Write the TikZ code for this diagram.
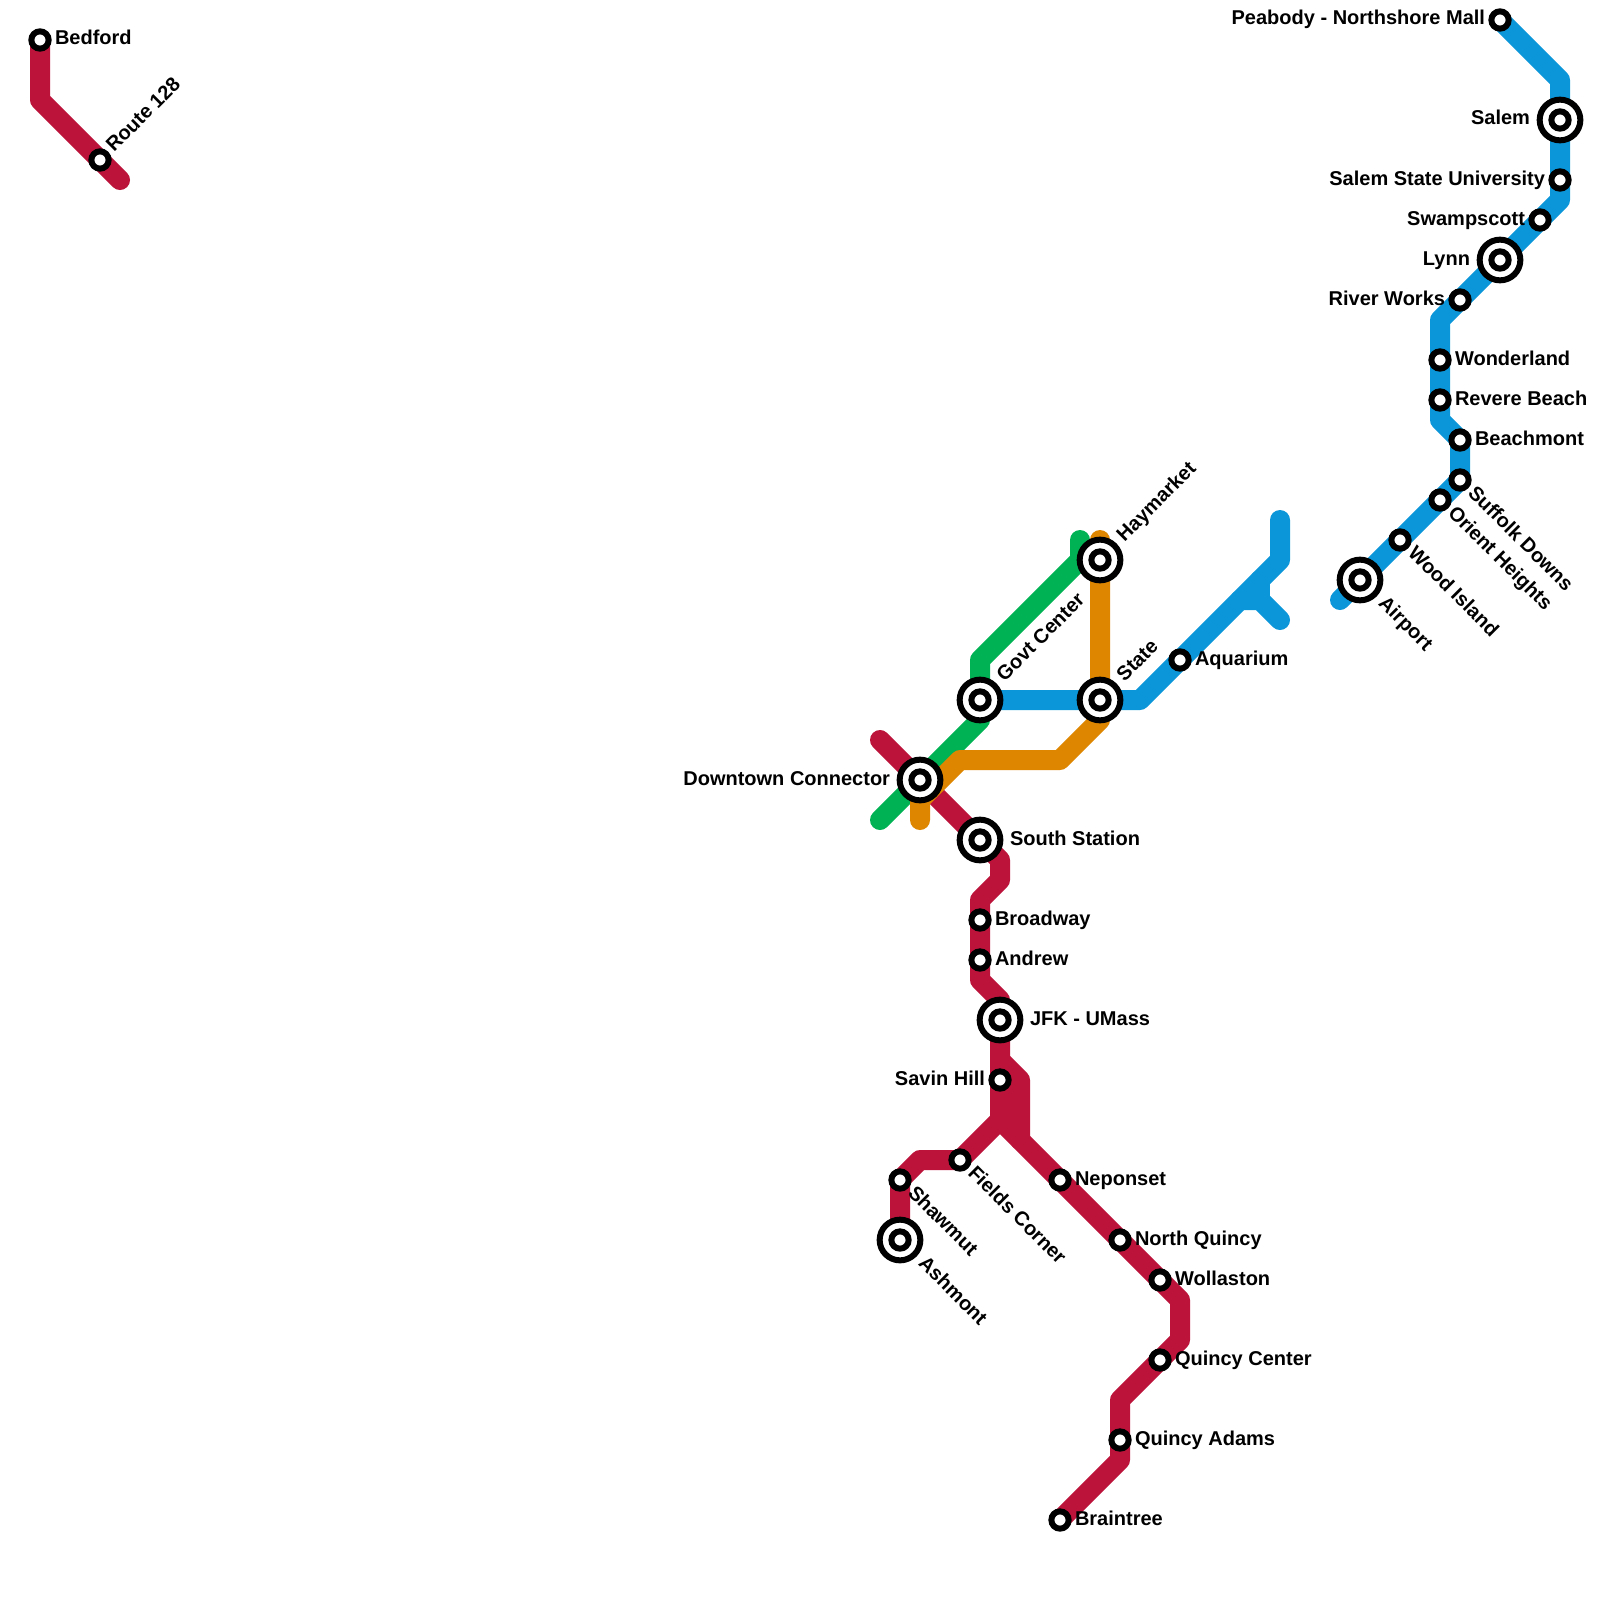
\documentclass[tikz,border=0pt]{standalone}
\usepackage{fontspec}
\setsansfont{Liberation Sans}
\usetikzlibrary{backgrounds}
\definecolor{redline}{RGB}{188,19,59}
\definecolor{greenline}{RGB}{0,178,83}
\definecolor{orangeline}{RGB}{222,134,0}
\definecolor{blueline}{RGB}{10,150,217}

\begin{document}
\begin{tikzpicture}[
    x=0.5pt, y=-0.5pt,
    font=\sffamily\bfseries\fontsize{10}{12}\selectfont,
    metro/.style={line width=10pt, line cap=round, line join=round},
    stn/.style={circle, draw=black, fill=white, line width=3pt, inner sep=0pt, minimum size=8.65pt},
    hub/.style={stn, minimum size=20.35pt},
    lab/.style={inner sep=0pt, outer sep=0pt},
    % labels of the small stations
    sr/.style={lab, anchor=base west, shift={(15,5)}},
    sl/.style={lab, anchor=base east, shift={(-15,5)}},
    su/.style={lab, anchor=base west, shift={(14,-7)}, rotate=45},
    sd/.style={lab, anchor=base west, shift={(7,14)}, rotate=-45},
    % labels of the large stations
    hr/.style={lab, anchor=base west, shift={(30,5)}},
    hl/.style={lab, anchor=base east, shift={(-30,5)}},
    hu/.style={lab, anchor=base west, shift={(24.7,-17.7)}, rotate=45},
    hd/.style={lab, anchor=base west, shift={(17.7,24.7)}, rotate=-45}
  ]
  \useasboundingbox (0,0) rectangle (1600,1600);

  \foreach \n/\x/\y/\lbl/\side in {
      bedford/40/40/Bedford/sr, rt128/100/160/Route 128/su,
      aquarium/1180/660/Aquarium/sr, broadway/980/920/Broadway/sr,
      andrew/980/960/Andrew/sr, savin/1000/1080/Savin Hill/sl,
      fields/960/1160/Fields Corner/sd, shawmut/900/1180/Shawmut/sd,
      neponset/1060/1180/Neponset/sr, nquincy/1120/1240/North Quincy/sr,
      wollaston/1160/1280/Wollaston/sr, qcenter/1160/1360/Quincy Center/sr,
      qadams/1120/1440/Quincy Adams/sr, braintree/1060/1520/Braintree/sr,
      peabody/1500/20/Peabody - Northshore Mall/sl,
      ssu/1560/180/Salem State University/sl, swampscott/1540/220/Swampscott/sl,
      riverworks/1460/300/River Works/sl, wonderland/1440/360/Wonderland/sr,
      revere/1440/400/Revere Beach/sr, beachmont/1460/440/Beachmont/sr,
      suffolk/1460/480/Suffolk Downs/sd, orient/1440/500/Orient Heights/sd,
      wood/1400/540/Wood Island/sd}
    {
      \node[stn] (\n) at (\x,\y) {};
      \node[\side] (\n lab) at (\n.center) {\lbl};
    }

  \foreach \n/\x/\y/\lbl/\side in {
      downtown/920/780/Downtown Connector/hl, south/980/840/South Station/hr,
      govt/980/700/Govt Center/hu, state/1100/700/State/hu,
      haymarket/1100/560/Haymarket/hu, jfk/1000/1020/JFK - UMass/hr,
      ashmont/900/1240/Ashmont/hd, airport/1360/580/Airport/hd,
      lynn/1500/260/Lynn/hl, salem/1560/120/Salem/hl}
    {
      \node[hub] (\n) at (\x,\y) {};
      \node[stn] (\n in) at (\n.center) {};
      \node[\side] (\n lab) at (\n.center) {\lbl};
    }

  % bends and line ends
  \foreach \n/\x/\y in {
      ra/40/100, rb/120/180, rc/880/740, rd/1000/860, re/1000/880, rf/980/900,
      rg/980/980, rh/1000/1000, ri/1000/1060, rj/1020/1080, rk/1020/1140,
      rl/1000/1120, rm/1180/1300, rn/1180/1340, ro/1120/1400, rp/1120/1460,
      rq/920/1160,
      ga/880/820, gb/980/720, gc/980/660, gd/1080/560, ge/1080/540,
      oa/1100/540, ob/1100/720, oc/1060/760, od/960/760, oe/920/800, of/920/820,
      ba/1140/700, bb/1280/560, bc/1280/520, bd/1240/600, be/1260/600,
      bf/1280/620, bg/1260/580, bh/1340/600, bi/1440/420, bj/1440/320,
      bk/1560/200, bl/1560/80}
    \coordinate (\n) at (\x,\y);

  \begin{scope}[on background layer]
    \draw[metro, redline] (bedford.center) -- (ra) -- (rt128.center) -- (rb);
    \draw[metro, redline] (rc) -- (downtown.center) -- (south.center) -- (rd) -- (re) -- (rf)
      -- (andrew.center) -- (rg) -- (rh) -- (jfk.center) -- (savin.center) -- (rl)
      -- (neponset.center) -- (nquincy.center) -- (wollaston.center) -- (rm) -- (rn)
      -- (qcenter.center) -- (ro) -- (qadams.center) -- (rp) -- (braintree.center);
    \draw[metro, redline] (ri) -- (rj) -- (rk);
    \draw[metro, redline] (rl) -- (fields.center) -- (rq) -- (shawmut.center) -- (ashmont.center);
    \draw[metro, greenline] (ga) -- (downtown.center) -- (gb) -- (govt.center) -- (gc) -- (gd) -- (ge);
    \draw[metro, orangeline] (oa) -- (haymarket.center) -- (state.center) -- (ob) -- (oc) -- (od) -- (oe) -- (of);
    \draw[metro, blueline] (govt.center) -- (state.center) -- (ba) -- (aquarium.center) -- (bb) -- (bc);
    \draw[metro, blueline] (bd) -- (be) -- (bf);
    \draw[metro, blueline] (bg) -- (be);
    \draw[metro, blueline] (bh) -- (airport.center) -- (wood.center) -- (orient.center) -- (suffolk.center)
      -- (beachmont.center) -- (bi) -- (revere.center) -- (wonderland.center) -- (bj)
      -- (riverworks.center) -- (lynn.center) -- (swampscott.center) -- (bk) -- (ssu.center)
      -- (salem.center) -- (bl) -- (peabody.center);
  \end{scope}
\end{tikzpicture}
\end{document}
